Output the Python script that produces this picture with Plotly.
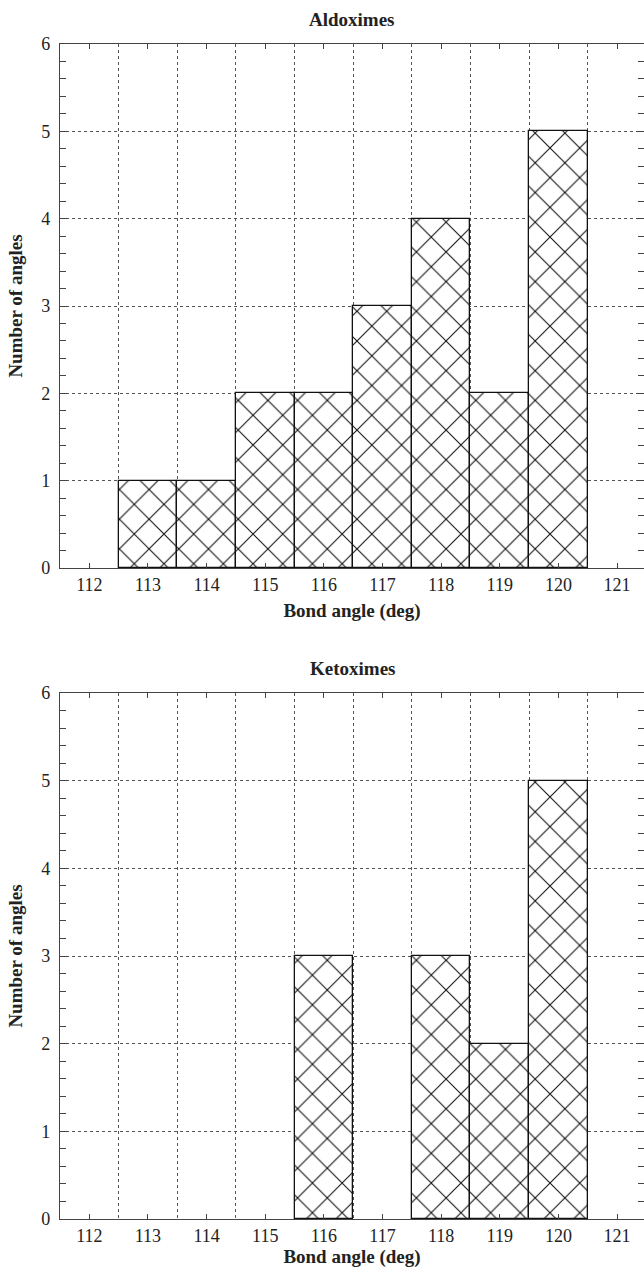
import plotly.graph_objects as go

angles = [112, 113, 114, 115, 116, 117, 118, 119, 120, 121]
aldoximes = [0, 1, 1, 2, 2, 3, 4, 2, 5, 0]
ketoximes = [0, 0, 0, 0, 3, 0, 3, 2, 5, 0]
x_ticks = [112, 113, 114, 115, 116, 117, 118, 119, 120, 121]
y_ticks = [0, 1, 2, 3, 4, 5, 6]
titles = ["Aldoximes", "Ketoximes"]

H = 1274
FONT = "Times New Roman, Liberation Serif, DejaVu Serif, serif"

fig = go.Figure()

def add_bars(vals, xa, ya):
    xs = [a for a, v in zip(angles, vals) if v > 0]
    ys = [v for v in vals if v > 0]
    fig.add_trace(go.Bar(
        x=xs, y=ys, width=1, xaxis=xa, yaxis=ya,
        marker=dict(color="white",
                    line=dict(color="#111111", width=1.3),
                    pattern=dict(shape="x", fgcolor="#111111", bgcolor="white",
                                 fgopacity=1, size=21, solidity=0.1)),
        showlegend=False, hoverinfo="skip"))

add_bars(aldoximes, "x", "y")
add_bars(ketoximes, "x2", "y2")

def px2paper(y):
    return 1 - y / H

domains = [(px2paper(568), px2paper(44)), (px2paper(1219), px2paper(693))]

def xaxis_cfg(standoff, anchor, lab_standoff):
    return dict(
        range=[111.5, 121.46], tickvals=x_ticks, ticktext=[str(t) for t in x_ticks],
        ticks="inside", ticklen=5, tickcolor="#444", showgrid=False, automargin=False,
        showline=True, linecolor="#444", linewidth=1.2, mirror="ticks",
        zeroline=False, tickfont=dict(family=FONT, size=18, color="#222"),
        ticklabelstandoff=lab_standoff,
        minor=dict(tickvals=[x + 0.5 for x in x_ticks[:-1]], ticklen=0, showgrid=True,
                   griddash="dot", gridcolor="#555", gridwidth=1),
        title=dict(text="<b>Bond angle (deg)</b>", font=dict(family=FONT, size=19, color="#222"),
                   standoff=standoff),
        anchor=anchor, domain=[0, 1],
    )

def yaxis_cfg(anchor, dom):
    return dict(
        range=[0, 6], tickvals=y_ticks, ticks="inside", ticklen=7, tickcolor="#444",
        showgrid=True, griddash="dot", gridcolor="#555", gridwidth=1, automargin=False,
        showline=True, linecolor="#444", linewidth=1.2, mirror="ticks",
        zeroline=False, tickfont=dict(family=FONT, size=18, color="#222"),
        ticklabelstandoff=5,
        minor=dict(dtick=0.2, tick0=0, ticklen=6, ticks="inside", tickcolor="#444", showgrid=False),
        title=dict(text="<b>Number of angles</b>", font=dict(family=FONT, size=19, color="#222"),
                   standoff=13),
        anchor=anchor, domain=list(dom),
    )

fig.update_layout(
    width=644, height=H,
    margin=dict(l=60, r=0, t=0, b=0),
    paper_bgcolor="white", plot_bgcolor="white",
    xaxis=xaxis_cfg(9, "y", 0),
    yaxis=yaxis_cfg("x", domains[0]),
    xaxis2=xaxis_cfg(2, "y2", 0),
    yaxis2=yaxis_cfg("x2", domains[1]),
    bargap=0,
)

for title, yp in zip(titles, [20, 668]):
    fig.add_annotation(text="<b>%s</b>" % title, x=0.5, xref="paper",
                       y=px2paper(yp), yref="paper", showarrow=False,
                       font=dict(family=FONT, size=19, color="#222"),
                       xanchor="center", yanchor="middle")

fig.write_html("out.html")
